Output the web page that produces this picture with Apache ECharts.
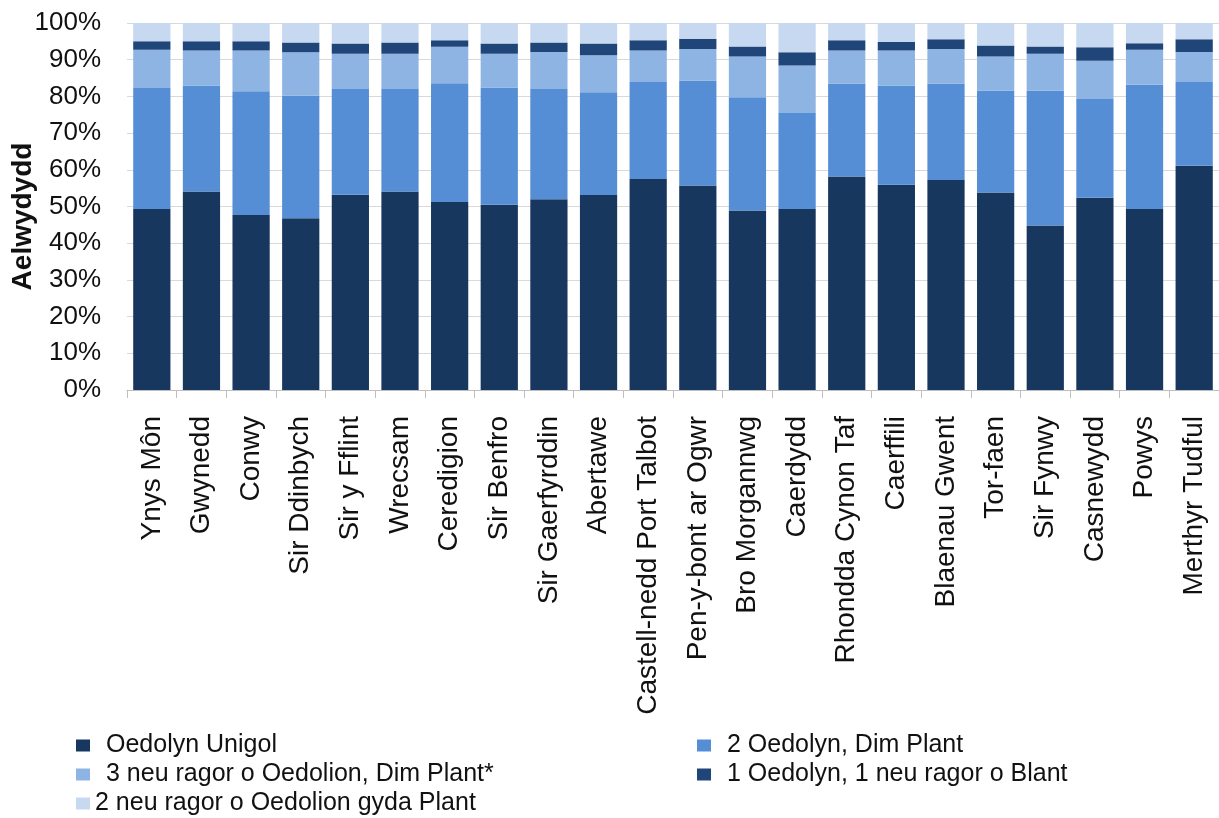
<!DOCTYPE html>
<html>
<head>
<meta charset="utf-8">
<script src="https://cdn.jsdelivr.net/npm/echarts@6/dist/echarts.min.js"></script>
<style>
html,body{margin:0;padding:0;background:#fff;}
#c{width:1219px;height:818px;}
</style>
</head>
<body>
<div id="c"></div>
<script>
const categories = ["Ynys Môn","Gwynedd","Conwy","Sir Ddinbych","Sir y Fflint","Wrecsam","Ceredigion","Sir Benfro","Sir Gaerfyrddin","Abertawe","Castell-nedd Port Talbot","Pen-y-bont ar Ogwr","Bro Morgannwg","Caerdydd","Rhondda Cynon Taf","Caerffili","Blaenau Gwent","Tor-faen","Sir Fynwy","Casnewydd","Powys","Merthyr Tudful"];

const seriesNames = ["Oedolyn Unigol","2 Oedolyn, Dim Plant","3 neu ragor o Oedolion, Dim Plant*","1 Oedolyn, 1 neu ragor o Blant","2 neu ragor o Oedolion gyda Plant"];

const oedolynUnigol   = [49.3,54.1,47.7,46.8,53.2,54.1,51.2,50.5,52.0,53.1,57.5,55.7,48.9,49.3,58.2,55.9,57.2,53.8,44.8,52.4,49.3,61.1];
const dauOedolyn      = [33.0,28.9,33.7,33.4,28.8,27.9,32.4,31.9,30.0,28.0,26.4,28.6,30.9,26.2,25.3,27.1,26.3,27.8,36.8,26.9,33.9,22.8];
const triOedolion     = [10.4,9.5,11.1,11.8,9.6,9.6,9.9,9.2,10.1,10.1,8.6,8.6,11.1,12.9,9.0,9.5,9.4,9.3,10.0,10.4,9.5,8.2];
const unOedolynPlant  = [2.3,2.5,2.5,2.7,2.8,3.1,1.8,2.8,2.6,3.2,2.8,2.8,2.7,3.6,2.8,2.3,2.7,3.0,2.0,3.7,1.8,3.5];
const dauOedolionPlant= [5.0,5.0,5.0,5.3,5.6,5.3,4.7,5.6,5.3,5.6,4.7,4.3,6.4,8.0,4.7,5.2,4.4,6.1,6.4,6.6,5.5,4.4];

const yTicks = [0,10,20,30,40,50,60,70,80,90,100];

const seriesData = [oedolynUnigol, dauOedolyn, triOedolion, unOedolynPlant, dauOedolionPlant];
const colors = ["#17375E","#558ED5","#8DB4E2","#1F4579","#C6D9F1"];

const FONT = "Liberation Sans, Arial, sans-serif";

const legendPos = [
  {left: 76, top: 733, pad: 11},
  {left: 697, top: 733, pad: 11},
  {left: 76, top: 762, pad: 11},
  {left: 697, top: 762, pad: 11},
  {left: 76, top: 791, pad: 0}
];

const chart = echarts.init(document.getElementById('c'), null, {renderer: 'canvas'});
chart.setOption({
  animation: false,
  backgroundColor: '#fff',
  textStyle: {fontFamily: FONT},
  grid: {left: 127, right: 0, top: 23, bottom: 428, containLabel: false, outerBoundsMode: 'none'},
  legend: seriesNames.map((n, i) => ({
    data: [n],
    left: legendPos[i].left,
    top: legendPos[i].top,
    padding: 0,
    icon: 'rect',
    itemWidth: 14,
    itemHeight: 12,
    selectedMode: false,
    textStyle: {fontFamily: FONT, fontSize: 25, color: '#111', padding: [0,0,0,legendPos[i].pad]}
  })),
  xAxis: {
    type: 'category',
    data: categories,
    axisLine: {show: true, lineStyle: {color: '#BFBFBF', width: 1}},
    axisTick: {show: true, length: 8, lineStyle: {color: '#BFBFBF'}},
    axisLabel: {rotate: 90, fontSize: 28, color: '#111', margin: 26, fontFamily: FONT, interval: 0}
  },
  yAxis: {
    type: 'value',
    min: yTicks[0],
    max: yTicks[yTicks.length - 1],
    interval: yTicks[1] - yTicks[0],
    name: 'Aelwydydd',
    nameLocation: 'middle',
    nameGap: 90,
    nameMoveOverlap: false,
    nameTextStyle: {fontSize: 28, fontWeight: 'bold', color: '#111', fontFamily: FONT, padding: [0, 20, 0, 0]},
    axisLine: {show: false},
    axisTick: {show: false},
    axisLabel: {formatter: '{value}%', fontSize: 26, color: '#111', margin: 26, fontFamily: FONT},
    splitLine: {show: true, lineStyle: {color: '#D9D9D9', width: 1}}
  },
  series: seriesNames.map((n, i) => ({
    name: n,
    type: 'bar',
    stack: 'total',
    barCategoryGap: '25%',
    itemStyle: {color: colors[i]},
    data: seriesData[i]
  }))
});
</script>
</body>
</html>
